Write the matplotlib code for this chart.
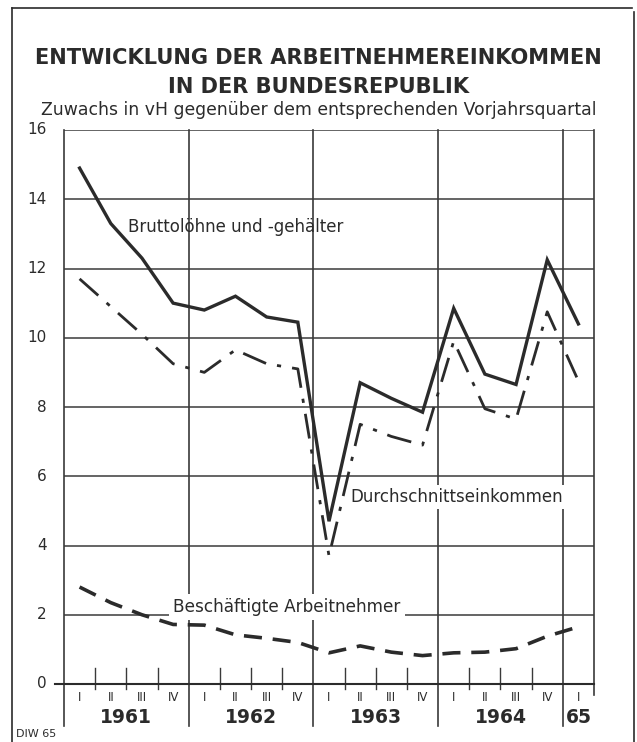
#!/usr/bin/env python3

"""
Entwicklung der Arbeitnehmereinkommen in der Bundesrepublik (DIW 65)
"""

import matplotlib
matplotlib.use("Agg")
import matplotlib.pyplot as plt
from matplotlib.lines import Line2D

# quarters 1961 I .. 1965 I
years = ["1961", "1962", "1963", "1964", "65"]
quarters_per_year = [4, 4, 4, 4, 1]
quarter_names = ["I", "II", "III", "IV"]

brutto = [14.9, 13.3, 12.3, 11.0, 10.8, 11.2, 10.6, 10.45,
          4.7, 8.7, 8.25, 7.85, 10.85, 8.95, 8.65, 12.25, 10.4]
durchschnitt = [11.7, 10.9, 10.1, 9.25, 9.0, 9.65, 9.25, 9.1,
                3.7, 7.5, 7.15, 6.9, 9.9, 7.95, 7.65, 10.75, 8.75]
beschaeftigte = [2.8, 2.35, 2.0, 1.72, 1.7, 1.42, 1.32, 1.2,
                 0.9, 1.1, 0.92, 0.82, 0.9, 0.92, 1.02, 1.38, 1.65]

INK = "#2b2b2b"
GRID = "#3a3a3a"

W, H = 637, 742
fig = plt.figure(figsize=(W / 100, H / 100), dpi=100)
fig.patch.set_facecolor("white")

ax_left, ax_right, ax_top, ax_bot = 64, 594, 130, 684
ax = fig.add_axes([ax_left / W, 1 - ax_bot / H,
                   (ax_right - ax_left) / W, (ax_bot - ax_top) / H])

n = len(brutto)
xs = [i + 0.5 for i in range(n)]
ax.set_xlim(0, n)
ax.set_ylim(0, 16)

# horizontal grid
for yv in range(2, 17, 2):
    ax.axhline(yv, color=GRID, lw=1.1, zorder=1)

# year boundaries (extend below the axis)
bounds = [0]
for q in quarters_per_year:
    bounds.append(bounds[-1] + q)
for b in bounds[:-1]:
    ax.add_line(Line2D([b, b], [-1.2, 16], color=GRID, lw=1.2,
                       clip_on=False, zorder=1))
ax.add_line(Line2D([n, n], [-0.32, 16], color=GRID, lw=1.2,
                   clip_on=False, zorder=1))

# quarter ticks
for b in range(1, n):
    if b in bounds:
        continue
    ax.add_line(Line2D([b, b], [-0.15, 0.45], color=GRID, lw=1.0,
                       clip_on=False, zorder=1))

# x axis line (slightly extended to the left)
ax.add_line(Line2D([-0.28, n], [0, 0], color=INK, lw=1.5,
                   clip_on=False, zorder=2))

for s in ax.spines.values():
    s.set_visible(False)
ax.set_xticks([])
ax.set_yticks([])

# y labels
for yv in range(0, 17, 2):
    ax.text(-0.55, yv, str(yv), ha="right", va="center", fontsize=11,
            color=INK)

# quarter and year labels
i = 0
for yr, nq in zip(years, quarters_per_year):
    for k in range(nq):
        ax.text(i + k + 0.5, -0.4, quarter_names[k], ha="center", va="center",
                fontsize=8.5, color=INK)
    ax.text(i + nq / 2, -0.97, yr, ha="center", va="center", fontsize=13.5,
            fontweight="bold", color=INK)
    i += nq

# series
ax.plot(xs, brutto, color=INK, lw=2.4, solid_joinstyle="miter", zorder=4)
ax.plot(xs, durchschnitt, color=INK, lw=2.0, dashes=(9, 4, 1.5, 4), zorder=4)
ax.plot(xs, beschaeftigte, color=INK, lw=2.6, dashes=(5, 3), zorder=4)

# series labels
ax.text(2.05, 13.2, "Bruttolöhne und -gehälter", fontsize=12, color=INK,
        va="center", ha="left", zorder=5)
ax.text(9.2, 5.4, "Durchschnittseinkommen", fontsize=12, color=INK,
        va="center", ha="left", zorder=5,
        bbox=dict(facecolor="white", edgecolor="none", pad=2))
ax.text(3.5, 2.22, "Beschäftigte Arbeitnehmer", fontsize=12.2, color=INK,
        va="center", ha="left", zorder=3,
        bbox=dict(facecolor="white", edgecolor="none", pad=3))

# titles
fig.text(0.5, 1 - 58 / H, "ENTWICKLUNG DER ARBEITNEHMEREINKOMMEN",
         ha="center", va="center", fontsize=15.1, fontweight="bold", color=INK)
fig.text(0.5, 1 - 87 / H, "IN DER BUNDESREPUBLIK",
         ha="center", va="center", fontsize=15.1, fontweight="bold", color=INK)
fig.text(0.5, 1 - 110 / H,
         "Zuwachs in vH gegenüber dem entsprechenden Vorjahrsquartal",
         ha="center", va="center", fontsize=12.4, color=INK)
fig.text(16 / W, 1 - 734 / H, "DIW 65", ha="left", va="center",
         fontsize=8, color=INK)

# outer frame
frame_kw = dict(color=INK, lw=1.2, transform=fig.transFigure)
fig.add_artist(Line2D([12 / W, 12 / W], [0, 1 - 8 / H], **frame_kw))
fig.add_artist(Line2D([12 / W, 632 / W], [1 - 8 / H, 1 - 8 / H], **frame_kw))
fig.add_artist(Line2D([634 / W, 634 / W], [0, 1 - 12 / H], **frame_kw))

fig.savefig("out.png", dpi=100, facecolor="white")
